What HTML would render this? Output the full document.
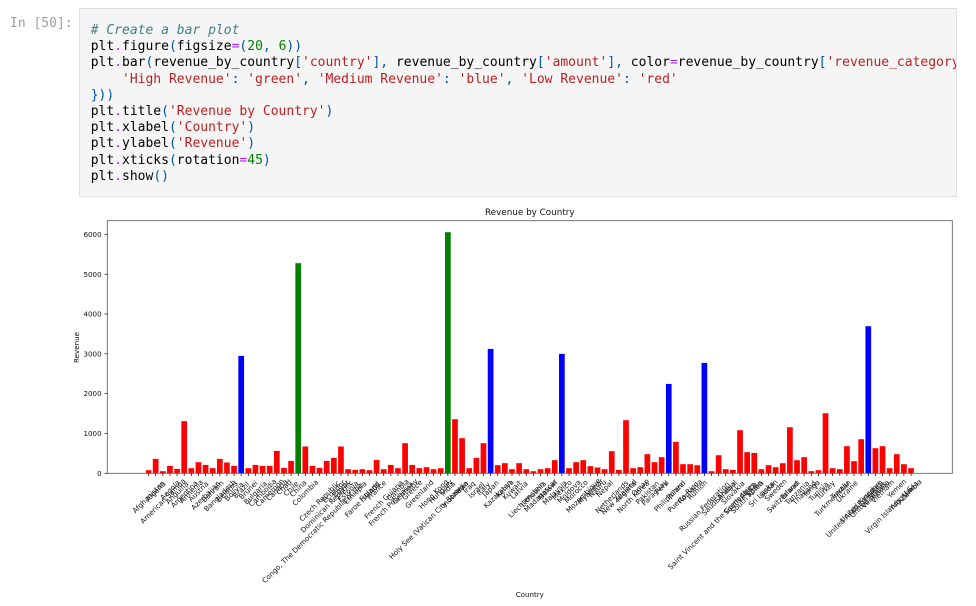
<!DOCTYPE html>
<html>
<head>
<meta charset="utf-8">
<style>
  html, body { margin:0; padding:0; background:#ffffff; }
  body { width:976px; height:606px; position:relative; overflow:hidden; }
  .prompt {
    position:absolute; left:10px; top:15.5px; margin:0;
    font-family:"DejaVu Sans Mono","Liberation Mono",monospace; font-size:13px; line-height:16.2px;
    color:#9e9e9e; white-space:pre;
  }
  .cell {
    position:absolute; left:79px; top:8px; width:876px; height:187px;
    background:#f5f5f5; border:1px solid #e0e0e0; overflow:hidden;
  }
  .cell pre {
    position:absolute; left:10.7px; top:14px; margin:0;
    font-family:"DejaVu Sans Mono","Liberation Mono",monospace; font-size:13px; line-height:16.2px;
    color:#000; white-space:pre;
  }
  .c { color:#408080; font-style:italic; }
  .o { color:#aa22ff; }
  .p { color:#0055aa; }
  .n { color:#008000; }
  .s { color:#ba2121; }
  svg { position:absolute; left:0; top:0; }
  .t { font-family:"DejaVu Sans","Liberation Sans",sans-serif; fill:#111; }
</style>
</head>
<body>
<div class="prompt">In [50]:</div>
<div class="cell"><pre><span class="c"># Create a bar plot</span>
plt<span class="o">.</span>figure<span class="p">(</span>figsize<span class="o">=</span><span class="p">(</span><span class="n">20</span><span class="p">,</span> <span class="n">6</span><span class="p">))</span>
plt<span class="o">.</span>bar<span class="p">(</span>revenue_by_country<span class="p">[</span><span class="s">'country'</span><span class="p">],</span> revenue_by_country<span class="p">[</span><span class="s">'amount'</span><span class="p">],</span> color<span class="o">=</span>revenue_by_country<span class="p">[</span><span class="s">'revenue_category'</span><span class="p">].</span>map<span class="p">({</span>
    <span class="s">'High Revenue'</span><span class="p">:</span> <span class="s">'green'</span><span class="p">,</span> <span class="s">'Medium Revenue'</span><span class="p">:</span> <span class="s">'blue'</span><span class="p">,</span> <span class="s">'Low Revenue'</span><span class="p">:</span> <span class="s">'red'</span>
<span class="p">}))</span>
plt<span class="o">.</span>title<span class="p">(</span><span class="s">'Revenue by Country'</span><span class="p">)</span>
plt<span class="o">.</span>xlabel<span class="p">(</span><span class="s">'Country'</span><span class="p">)</span>
plt<span class="o">.</span>ylabel<span class="p">(</span><span class="s">'Revenue'</span><span class="p">)</span>
plt<span class="o">.</span>xticks<span class="p">(</span>rotation<span class="o">=</span><span class="n">45</span><span class="p">)</span>
plt<span class="o">.</span>show<span class="p">()</span></pre></div>

<svg width="976" height="606" viewBox="0 0 976 606" xmlns="http://www.w3.org/2000/svg">
  <text class="t" x="529.8" y="215" font-size="8.8" text-anchor="middle">Revenue by Country</text>

  <g transform="translate(148.56,473.2) scale(7.126,-1)">
    <g fill="#ff0000">
      <rect x="-0.4" width="0.8" height="3"/>
      <rect x="0.6" width="0.8" height="14.3"/>
      <rect x="1.6" width="0.8" height="2"/>
      <rect x="2.6" width="0.8" height="7.3"/>
      <rect x="3.6" width="0.8" height="4.3"/>
      <rect x="4.6" width="0.8" height="52"/>
      <rect x="5.6" width="0.8" height="5"/>
      <rect x="6.6" width="0.8" height="11"/>
      <rect x="7.6" width="0.8" height="8.3"/>
      <rect x="8.6" width="0.8" height="5"/>
      <rect x="9.6" width="0.8" height="14.3"/>
      <rect x="10.6" width="0.8" height="10.7"/>
      <rect x="11.6" width="0.8" height="7.3"/>
      <rect x="13.6" width="0.8" height="5"/>
      <rect x="14.6" width="0.8" height="8.3"/>
      <rect x="15.6" width="0.8" height="7.3"/>
      <rect x="16.6" width="0.8" height="7.3"/>
      <rect x="17.6" width="0.8" height="22.3"/>
      <rect x="18.6" width="0.8" height="5.3"/>
      <rect x="19.6" width="0.8" height="12.3"/>
      <rect x="21.6" width="0.8" height="26.7"/>
      <rect x="22.6" width="0.8" height="7.3"/>
      <rect x="23.6" width="0.8" height="5.3"/>
      <rect x="24.6" width="0.8" height="12.3"/>
      <rect x="25.6" width="0.8" height="15.3"/>
      <rect x="26.6" width="0.8" height="26.7"/>
      <rect x="27.6" width="0.8" height="4"/>
      <rect x="28.6" width="0.8" height="3.3"/>
      <rect x="29.6" width="0.8" height="4"/>
      <rect x="30.6" width="0.8" height="3"/>
      <rect x="31.6" width="0.8" height="13.3"/>
      <rect x="32.6" width="0.8" height="4"/>
      <rect x="33.6" width="0.8" height="8.3"/>
      <rect x="34.6" width="0.8" height="5"/>
      <rect x="35.6" width="0.8" height="30"/>
      <rect x="36.6" width="0.8" height="8.3"/>
      <rect x="37.6" width="0.8" height="5"/>
      <rect x="38.6" width="0.8" height="6"/>
      <rect x="39.6" width="0.8" height="4"/>
      <rect x="40.6" width="0.8" height="5"/>
      <rect x="42.6" width="0.8" height="54"/>
      <rect x="43.6" width="0.8" height="35"/>
      <rect x="44.6" width="0.8" height="5"/>
      <rect x="45.6" width="0.8" height="15.3"/>
      <rect x="46.6" width="0.8" height="30"/>
      <rect x="48.6" width="0.8" height="8"/>
      <rect x="49.6" width="0.8" height="10"/>
      <rect x="50.6" width="0.8" height="4"/>
      <rect x="51.6" width="0.8" height="10"/>
      <rect x="52.6" width="0.8" height="4"/>
      <rect x="53.6" width="0.8" height="2"/>
      <rect x="54.6" width="0.8" height="4"/>
      <rect x="55.6" width="0.8" height="5"/>
      <rect x="56.6" width="0.8" height="13"/>
      <rect x="58.6" width="0.8" height="5"/>
      <rect x="59.6" width="0.8" height="11"/>
      <rect x="60.6" width="0.8" height="13"/>
      <rect x="61.6" width="0.8" height="7"/>
      <rect x="62.6" width="0.8" height="5.7"/>
      <rect x="63.6" width="0.8" height="4"/>
      <rect x="64.6" width="0.8" height="22"/>
      <rect x="65.6" width="0.8" height="3.3"/>
      <rect x="66.6" width="0.8" height="53"/>
      <rect x="67.6" width="0.8" height="5"/>
      <rect x="68.6" width="0.8" height="6"/>
      <rect x="69.6" width="0.8" height="19"/>
      <rect x="70.6" width="0.8" height="11"/>
      <rect x="71.6" width="0.8" height="16"/>
      <rect x="73.6" width="0.8" height="31.3"/>
      <rect x="74.6" width="0.8" height="9"/>
      <rect x="75.6" width="0.8" height="9"/>
      <rect x="76.6" width="0.8" height="8"/>
      <rect x="78.6" width="0.8" height="2"/>
      <rect x="79.6" width="0.8" height="18"/>
      <rect x="80.6" width="0.8" height="4"/>
      <rect x="81.6" width="0.8" height="3.3"/>
      <rect x="82.6" width="0.8" height="43"/>
      <rect x="83.6" width="0.8" height="21"/>
      <rect x="84.6" width="0.8" height="20.3"/>
      <rect x="85.6" width="0.8" height="4"/>
      <rect x="86.6" width="0.8" height="8"/>
      <rect x="87.6" width="0.8" height="6"/>
      <rect x="88.6" width="0.8" height="10"/>
      <rect x="89.6" width="0.8" height="46"/>
      <rect x="90.6" width="0.8" height="13"/>
      <rect x="91.6" width="0.8" height="16"/>
      <rect x="92.6" width="0.8" height="2"/>
      <rect x="93.6" width="0.8" height="3"/>
      <rect x="94.6" width="0.8" height="60"/>
      <rect x="95.6" width="0.8" height="5"/>
      <rect x="96.6" width="0.8" height="4"/>
      <rect x="97.6" width="0.8" height="27"/>
      <rect x="98.6" width="0.8" height="12"/>
      <rect x="99.6" width="0.8" height="34"/>
      <rect x="101.6" width="0.8" height="25"/>
      <rect x="102.6" width="0.8" height="27"/>
      <rect x="103.6" width="0.8" height="5"/>
      <rect x="104.6" width="0.8" height="19"/>
      <rect x="105.6" width="0.8" height="9"/>
      <rect x="106.6" width="0.8" height="5"/>
    </g>
    <g fill="#0000ff">
      <rect x="12.6" width="0.8" height="117.3"/>
      <rect x="47.6" width="0.8" height="124.3"/>
      <rect x="57.6" width="0.8" height="119.3"/>
      <rect x="72.6" width="0.8" height="89.3"/>
      <rect x="77.6" width="0.8" height="110.3"/>
      <rect x="100.6" width="0.8" height="147"/>
    </g>
    <g fill="#008000">
      <rect x="20.6" width="0.8" height="210"/>
      <rect x="41.6" width="0.8" height="241"/>
    </g>
  </g>

  <rect x="107.3" y="220.7" width="845" height="252.6" fill="none" stroke="#555" stroke-width="0.8"/>

  <line x1="148.21" y1="474.6" x2="912.5" y2="474.6" stroke="#000" stroke-width="2.7" stroke-dasharray="0.7 6.426"/>

  <g stroke="#000" stroke-width="0.7">
    <line x1="104.6" y1="473.3" x2="107.3" y2="473.3"/>
    <line x1="104.6" y1="433.5" x2="107.3" y2="433.5"/>
    <line x1="104.6" y1="393.6" x2="107.3" y2="393.6"/>
    <line x1="104.6" y1="353.8" x2="107.3" y2="353.8"/>
    <line x1="104.6" y1="314.0" x2="107.3" y2="314.0"/>
    <line x1="104.6" y1="274.2" x2="107.3" y2="274.2"/>
    <line x1="104.6" y1="234.3" x2="107.3" y2="234.3"/>
  </g>
  <g class="t" font-size="7.1" text-anchor="end">
    <text x="101.6" y="475.9">0</text>
    <text x="101.6" y="436.1">1000</text>
    <text x="101.6" y="396.2">2000</text>
    <text x="101.6" y="356.4">3000</text>
    <text x="101.6" y="316.6">4000</text>
    <text x="101.6" y="276.8">5000</text>
    <text x="101.6" y="236.9">6000</text>
  </g>

  <text class="t" font-size="7.1" text-anchor="middle" transform="translate(79,347.5) rotate(-90)">Revenue</text>
  <text class="t" font-size="7.1" text-anchor="middle" x="529.8" y="597">Country</text>

  <g class="t" font-size="7.1" text-anchor="middle" transform="translate(150.29,483.43)">
    <text transform="translate(0,15.2)rotate(-45)">Afghanistan</text>
    <text transform="translate(7.13,9.7)rotate(-45)">Algeria</text>
    <text transform="translate(14.25,19.3)rotate(-45)">American Samoa</text>
    <text transform="translate(21.38,8.3)rotate(-45)">Angola</text>
    <text transform="translate(28.5,11)rotate(-45)">Anguilla</text>
    <text transform="translate(35.63,12.4)rotate(-45)">Argentina</text>
    <text transform="translate(42.76,9.7)rotate(-45)">Armenia</text>
    <text transform="translate(49.88,9.7)rotate(-45)">Austria</text>
    <text transform="translate(57,13.8)rotate(-45)">Azerbaijan</text>
    <text transform="translate(64.13,9.7)rotate(-45)">Bahrain</text>
    <text transform="translate(71.26,13.8)rotate(-45)">Bangladesh</text>
    <text transform="translate(78.39,9.7)rotate(-45)">Belarus</text>
    <text transform="translate(85.51,9.7)rotate(-45)">Bolivia</text>
    <text transform="translate(92.64,8.3)rotate(-45)">Brazil</text>
    <text transform="translate(99.76,8.3)rotate(-45)">Brunei</text>
    <text transform="translate(106.89,11)rotate(-45)">Bulgaria</text>
    <text transform="translate(114.02,11)rotate(-45)">Cambodia</text>
    <text transform="translate(121.14,11)rotate(-45)">Cameroon</text>
    <text transform="translate(128.27,8.3)rotate(-45)">Canada</text>
    <text transform="translate(135.39,5.5)rotate(-45)">Chad</text>
    <text transform="translate(142.52,6.9)rotate(-45)">Chile</text>
    <text transform="translate(149.65,6.9)rotate(-45)">China</text>
    <text transform="translate(156.77,11)rotate(-45)">Colombia</text>
    <text transform="translate(163.9,51.1)rotate(-45)">Congo, The Democratic Republic of the</text>
    <text transform="translate(171.02,19.3)rotate(-45)">Czech Republic</text>
    <text transform="translate(178.15,24.8)rotate(-45)">Dominican Republic</text>
    <text transform="translate(185.28,9.7)rotate(-45)">Ecuador</text>
    <text transform="translate(192.4,6.9)rotate(-45)">Egypt</text>
    <text transform="translate(199.53,9.7)rotate(-45)">Estonia</text>
    <text transform="translate(206.65,11)rotate(-45)">Ethiopia</text>
    <text transform="translate(213.78,17.9)rotate(-45)">Faroe Islands</text>
    <text transform="translate(220.91,9.7)rotate(-45)">Finland</text>
    <text transform="translate(228.03,8.3)rotate(-45)">France</text>
    <text transform="translate(235.16,17.9)rotate(-45)">French Guiana</text>
    <text transform="translate(242.28,22.1)rotate(-45)">French Polynesia</text>
    <text transform="translate(249.41,8.3)rotate(-45)">Gambia</text>
    <text transform="translate(256.54,9.7)rotate(-45)">Germany</text>
    <text transform="translate(263.66,8.3)rotate(-45)">Greece</text>
    <text transform="translate(270.79,12.4)rotate(-45)">Greenland</text>
    <text transform="translate(277.91,40)rotate(-45)">Holy See (Vatican City State)</text>
    <text transform="translate(285.04,12.4)rotate(-45)">Hong Kong</text>
    <text transform="translate(292.17,9.7)rotate(-45)">Hungary</text>
    <text transform="translate(299.29,6.9)rotate(-45)">India</text>
    <text transform="translate(306.42,12.4)rotate(-45)">Indonesia</text>
    <text transform="translate(313.54,5.5)rotate(-45)">Iran</text>
    <text transform="translate(320.67,5.5)rotate(-45)">Iraq</text>
    <text transform="translate(327.8,8.3)rotate(-45)">Israel</text>
    <text transform="translate(334.92,6.9)rotate(-45)">Italy</text>
    <text transform="translate(342.05,6.9)rotate(-45)">Japan</text>
    <text transform="translate(349.17,12.4)rotate(-45)">Kazakstan</text>
    <text transform="translate(356.3,6.9)rotate(-45)">Kenya</text>
    <text transform="translate(363.43,8.3)rotate(-45)">Kuwait</text>
    <text transform="translate(370.55,8.3)rotate(-45)">Latvia</text>
    <text transform="translate(377.68,17.9)rotate(-45)">Liechtenstein</text>
    <text transform="translate(384.8,12.4)rotate(-45)">Lithuania</text>
    <text transform="translate(391.93,13.8)rotate(-45)">Madagascar</text>
    <text transform="translate(399.06,8.3)rotate(-45)">Malawi</text>
    <text transform="translate(406.18,11)rotate(-45)">Malaysia</text>
    <text transform="translate(413.31,8.3)rotate(-45)">Mexico</text>
    <text transform="translate(420.43,9.7)rotate(-45)">Moldova</text>
    <text transform="translate(427.56,9.7)rotate(-45)">Morocco</text>
    <text transform="translate(434.69,13.8)rotate(-45)">Mozambique</text>
    <text transform="translate(441.81,9.7)rotate(-45)">Myanmar</text>
    <text transform="translate(448.94,6.9)rotate(-45)">Nauru</text>
    <text transform="translate(456.06,6.9)rotate(-45)">Nepal</text>
    <text transform="translate(463.19,15.2)rotate(-45)">Netherlands</text>
    <text transform="translate(470.32,15.2)rotate(-45)">New Zealand</text>
    <text transform="translate(477.44,9.7)rotate(-45)">Nigeria</text>
    <text transform="translate(484.57,15.2)rotate(-45)">North Korea</text>
    <text transform="translate(491.69,5.5)rotate(-45)">Oman</text>
    <text transform="translate(498.82,11)rotate(-45)">Pakistan</text>
    <text transform="translate(505.95,11)rotate(-45)">Paraguay</text>
    <text transform="translate(513.07,5.5)rotate(-45)">Peru</text>
    <text transform="translate(520.2,15.2)rotate(-45)">Philippines</text>
    <text transform="translate(527.32,8.3)rotate(-45)">Poland</text>
    <text transform="translate(534.45,15.2)rotate(-45)">Puerto Rico</text>
    <text transform="translate(541.58,9.7)rotate(-45)">Romania</text>
    <text transform="translate(548.7,8.3)rotate(-45)">Runion</text>
    <text transform="translate(555.83,24.8)rotate(-45)">Russian Federation</text>
    <text transform="translate(562.95,44.2)rotate(-45)">Saint Vincent and the Grenadines</text>
    <text transform="translate(570.08,16.6)rotate(-45)">Saudi Arabia</text>
    <text transform="translate(577.21,9.7)rotate(-45)">Senegal</text>
    <text transform="translate(584.33,11)rotate(-45)">Slovakia</text>
    <text transform="translate(591.46,16.6)rotate(-45)">South Africa</text>
    <text transform="translate(598.58,15.2)rotate(-45)">South Korea</text>
    <text transform="translate(605.71,6.9)rotate(-45)">Spain</text>
    <text transform="translate(612.84,12.4)rotate(-45)">Sri Lanka</text>
    <text transform="translate(619.96,6.9)rotate(-45)">Sudan</text>
    <text transform="translate(627.09,8.3)rotate(-45)">Sweden</text>
    <text transform="translate(634.21,15.2)rotate(-45)">Switzerland</text>
    <text transform="translate(641.34,8.3)rotate(-45)">Taiwan</text>
    <text transform="translate(648.47,11)rotate(-45)">Tanzania</text>
    <text transform="translate(655.59,11)rotate(-45)">Thailand</text>
    <text transform="translate(662.72,6.9)rotate(-45)">Tonga</text>
    <text transform="translate(669.84,9.7)rotate(-45)">Tunisia</text>
    <text transform="translate(676.97,8.3)rotate(-45)">Turkey</text>
    <text transform="translate(684.1,16.6)rotate(-45)">Turkmenistan</text>
    <text transform="translate(691.22,8.3)rotate(-45)">Tuvalu</text>
    <text transform="translate(698.35,9.7)rotate(-45)">Ukraine</text>
    <text transform="translate(705.47,27.6)rotate(-45)">United Arab Emirates</text>
    <text transform="translate(712.6,19.3)rotate(-45)">United Kingdom</text>
    <text transform="translate(719.73,17.9)rotate(-45)">United States</text>
    <text transform="translate(726.85,12.4)rotate(-45)">Venezuela</text>
    <text transform="translate(733.98,9.7)rotate(-45)">Vietnam</text>
    <text transform="translate(741.1,27.6)rotate(-45)">Virgin Islands, U.S.</text>
    <text transform="translate(748.23,6.9)rotate(-45)">Yemen</text>
    <text transform="translate(755.35,13.8)rotate(-45)">Yugoslavia</text>
    <text transform="translate(762.48,8.3)rotate(-45)">Zambia</text>
  </g>
</svg>
</body>
</html>
